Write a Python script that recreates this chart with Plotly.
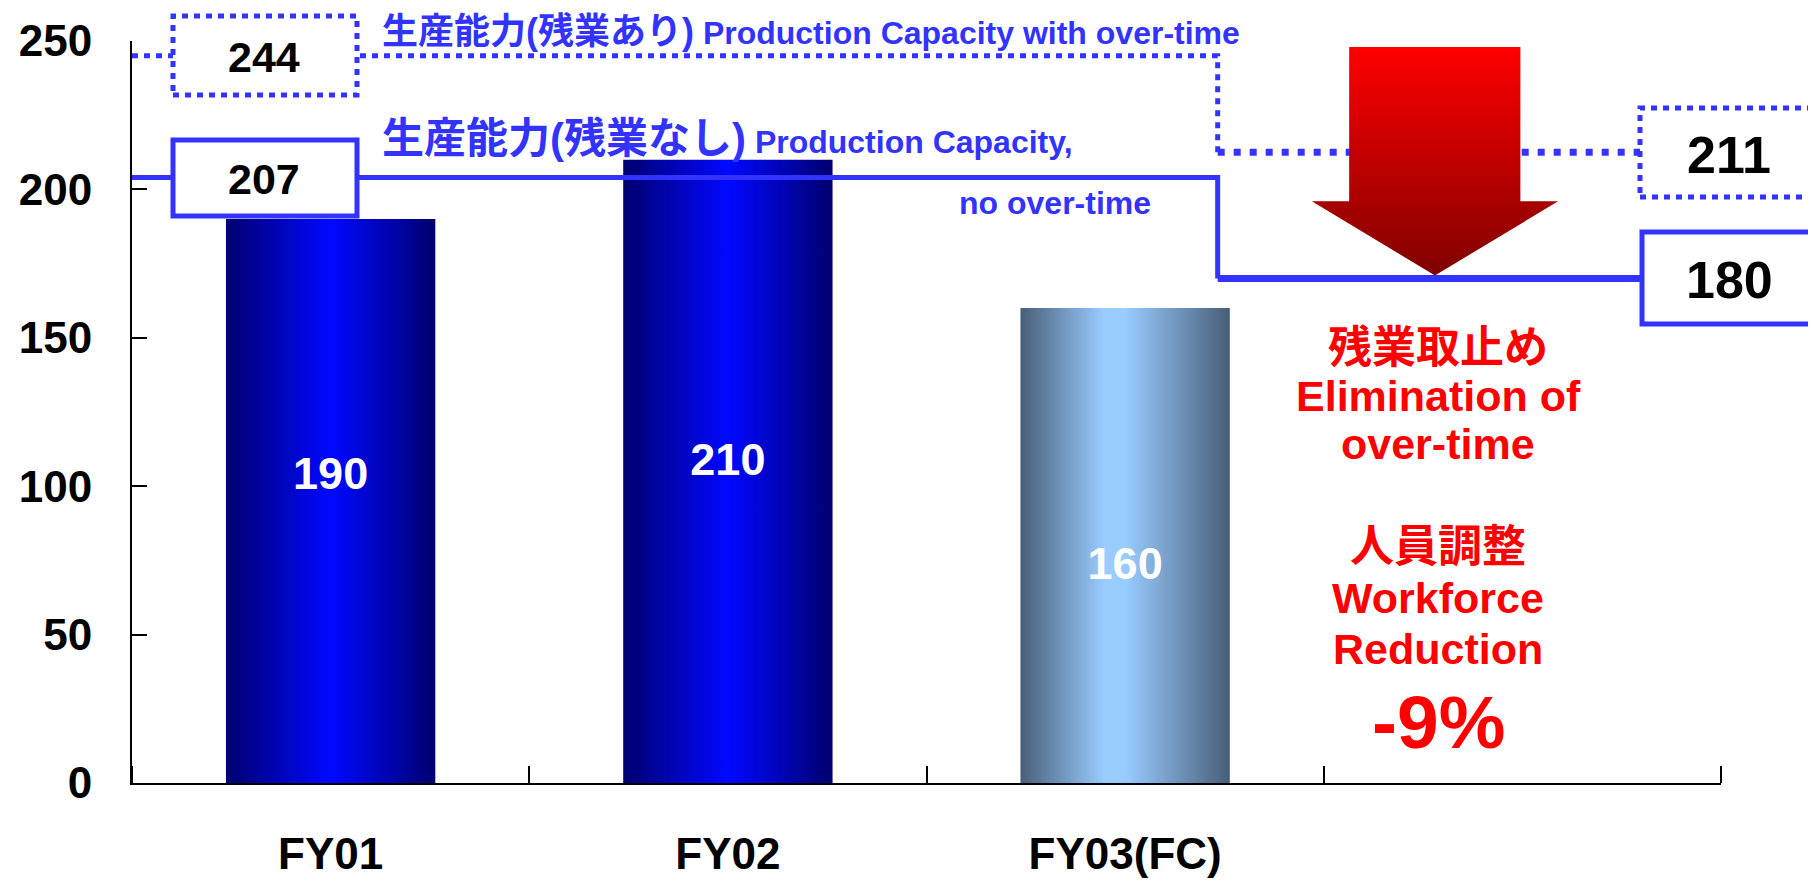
import plotly.graph_objects as go

# ---------------- data ----------------
categories = ["FY01", "FY02", "FY03(FC)"]
production = [190, 210, 160]
bar_value_labels = ["190", "210", "160"]
y_ticks = [0, 50, 100, 150, 200, 250]

# capacity levels as drawn (before / after the FY03 drop) and their box labels
cap_no_ot_levels = [204, 170]
cap_ot_levels = [245, 212.5]
cap_no_ot_labels = ["207", "180"]
cap_ot_labels = ["244", "211"]

# ---------------- layout constants ----------------
# the page body has an 8px margin, so the figure is shrunk by 8px and all
# pixel positions below are given in window (screenshot) coordinates.
OFF = 8
W, H = 1816 - OFF, 881 - OFF
ML, MR, MT, MB = 132 - OFF, 95, 41 - OFF, 98
PW, PH = W - ML - MR, H - MT - MB
X_RANGE = [-0.5, 3.5]
Y_RANGE = [0, 250]
BAR_W = 0.527
BAR_LABEL_Y = [103, 107.5, 72.5]
STEP_X = 2.233
FONT = "Liberation Sans, Arial, Noto Sans CJK JP, sans-serif"
BLUE = "#3333FF"
RED = "#FF0000"


def pxx(p):  # window pixel -> paper x
    return (p - OFF - ML) / PW


def pxy(p):  # window pixel -> paper y
    return (H - MB - (p - OFF)) / PH


fig = go.Figure()

# ---------------- bars (gradient-filled polygons) ----------------
bar_scales = [
    [[0, "#00006E"], [0.5, "#0008FF"], [1, "#00006E"]],
    [[0, "#00006E"], [0.5, "#0008FF"], [1, "#00006E"]],
    [[0, "#485E78"], [0.4, "#99CCFF"], [0.5, "#99CCFF"], [1, "#485E78"]],
]
for i, (cat, v) in enumerate(zip(categories, production)):
    x0, x1 = i - BAR_W / 2, i + BAR_W / 2
    fig.add_trace(go.Scatter(
        x=[x0, x1, x1, x0, x0], y=[0, 0, v, v, 0],
        mode="lines", line=dict(width=0), fill="toself",
        fillgradient=dict(type="horizontal", colorscale=bar_scales[i]),
        hoverinfo="skip", showlegend=False, name=cat,
    ))

# bar value labels
fig.add_trace(go.Scatter(
    x=list(range(len(categories))), y=BAR_LABEL_Y,
    mode="text", text=bar_value_labels,
    textfont=dict(family=FONT, size=45, color="white", weight="bold"),
    showlegend=False, hoverinfo="skip",
))

# ---------------- capacity step lines ----------------
# with over-time (dotted)
fig.add_trace(go.Scatter(
    x=[X_RANGE[0], STEP_X, STEP_X],
    y=[cap_ot_levels[0], cap_ot_levels[0], cap_ot_levels[1]],
    mode="lines", line=dict(color=BLUE, width=5, dash="6px,6px"),
    showlegend=False, hoverinfo="skip",
))
fig.add_trace(go.Scatter(
    x=[STEP_X, X_RANGE[1]], y=[cap_ot_levels[1], cap_ot_levels[1]],
    mode="lines", line=dict(color=BLUE, width=7, dash="7px,9px"),
    showlegend=False, hoverinfo="skip",
))
# without over-time (solid)
fig.add_trace(go.Scatter(
    x=[X_RANGE[0], STEP_X, STEP_X],
    y=[cap_no_ot_levels[0], cap_no_ot_levels[0], cap_no_ot_levels[1]],
    mode="lines", line=dict(color=BLUE, width=5),
    showlegend=False, hoverinfo="skip",
))
fig.add_trace(go.Scatter(
    x=[STEP_X, X_RANGE[1]], y=[cap_no_ot_levels[1], cap_no_ot_levels[1]],
    mode="lines", line=dict(color=BLUE, width=7),
    showlegend=False, hoverinfo="skip",
))

# ---------------- big red gradient arrow ----------------
ax_ = [2.564, 2.995, 2.995, 3.090, 2.780, 2.470, 2.564, 2.564]
ay_ = [248, 248, 196, 196, 171, 196, 196, 248]
fig.add_trace(go.Scatter(
    x=ax_, y=ay_, mode="lines", line=dict(width=0), fill="toself",
    fillgradient=dict(type="vertical", colorscale=[[0, "#800000"], [1, "#FF0000"]]),
    showlegend=False, hoverinfo="skip",
))

# ---------------- boxes with capacity values ----------------
shapes = []
annotations = []


def box(x0, y0, x1, y1, dashed, text, tx, ty, size):
    shapes.append(dict(
        type="rect", xref="paper", yref="paper",
        x0=pxx(x0), x1=pxx(x1), y0=pxy(y1), y1=pxy(y0),
        line=dict(color=BLUE, width=5, dash="6px,6px" if dashed else "solid"),
        fillcolor="white", layer="above",
    ))
    annotations.append(dict(
        xref="paper", yref="paper", x=pxx(tx), y=pxy(ty), text=text,
        showarrow=False, xanchor="center", yanchor="middle",
        font=dict(family=FONT, size=size, color="black", weight="bold"),
    ))


box(173, 16, 357, 95, True, cap_ot_labels[0], 264, 57, 43)
box(173, 140, 357, 216, False, cap_no_ot_labels[0], 264, 179, 43)
box(1640, 108, 1850, 197, True, cap_ot_labels[1], 1729, 155, 52)
box(1642, 232, 1850, 324, False, cap_no_ot_labels[1], 1729, 280, 52)

# ---------------- blue line labels ----------------
annotations.append(dict(
    xref="paper", yref="paper", x=pxx(380), y=pxy(31), xanchor="left", yanchor="middle",
    showarrow=False,
    text="生産能力(残業あり)<span style='font-size:32px'> Production Capacity with over-time</span>",
    font=dict(family=FONT, size=36, color=BLUE, weight="bold"),
))
annotations.append(dict(
    xref="paper", yref="paper", x=pxx(380), y=pxy(139), xanchor="left", yanchor="middle",
    showarrow=False,
    text="生産能力(残業なし)<span style='font-size:32px'> Production Capacity,</span>",
    font=dict(family=FONT, size=42, color=BLUE, weight="bold"),
))
annotations.append(dict(
    xref="paper", yref="paper", x=pxx(957), y=pxy(203), xanchor="left", yanchor="middle",
    showarrow=False, text="no over-time",
    font=dict(family=FONT, size=32, color=BLUE, weight="bold"),
))

# ---------------- red explanatory text ----------------
red_lines = [
    ("残業取止め", 347, 44), ("Elimination of", 396, 43), ("over-time", 444, 43),
    ("人員調整", 546, 44), ("Workforce", 598, 43), ("Reduction", 649, 43),
    ("-9%", 722, 75),
]
for txt, yy, sz in red_lines:
    annotations.append(dict(
        xref="paper", yref="paper", x=pxx(1438), y=pxy(yy), xanchor="center", yanchor="middle",
        showarrow=False, text=txt,
        font=dict(family=FONT, size=sz, color=RED, weight="bold"),
    ))

fig.update_layout(
    width=W, height=H, margin=dict(l=ML, r=MR, t=MT, b=MB, autoexpand=False),
    paper_bgcolor="white", plot_bgcolor="white",
    shapes=shapes, annotations=annotations, showlegend=False,
    xaxis=dict(
        range=X_RANGE, tickvals=list(range(len(categories))), ticktext=categories,
        ticks="", showgrid=False, zeroline=False, showline=True, linecolor="black", linewidth=2,
        tickfont=dict(family=FONT, size=44, color="black", weight="bold"),
        ticklabelstandoff=31, automargin=False,
        minor=dict(tickvals=[-0.5, 0.5, 1.5, 2.5, 3.5], ticks="inside", ticklen=17,
                   tickwidth=2, tickcolor="black", showgrid=False),
    ),
    yaxis=dict(
        range=Y_RANGE, tickvals=y_ticks, ticks="inside", ticklen=15, tickwidth=2,
        tickcolor="black", showgrid=False, zeroline=False, showline=True,
        linecolor="black", linewidth=2, automargin=False,
        tickfont=dict(family=FONT, size=44, color="black", weight="bold"),
        ticklabelstandoff=29,
    ),
)

fig.write_html("out.html")
